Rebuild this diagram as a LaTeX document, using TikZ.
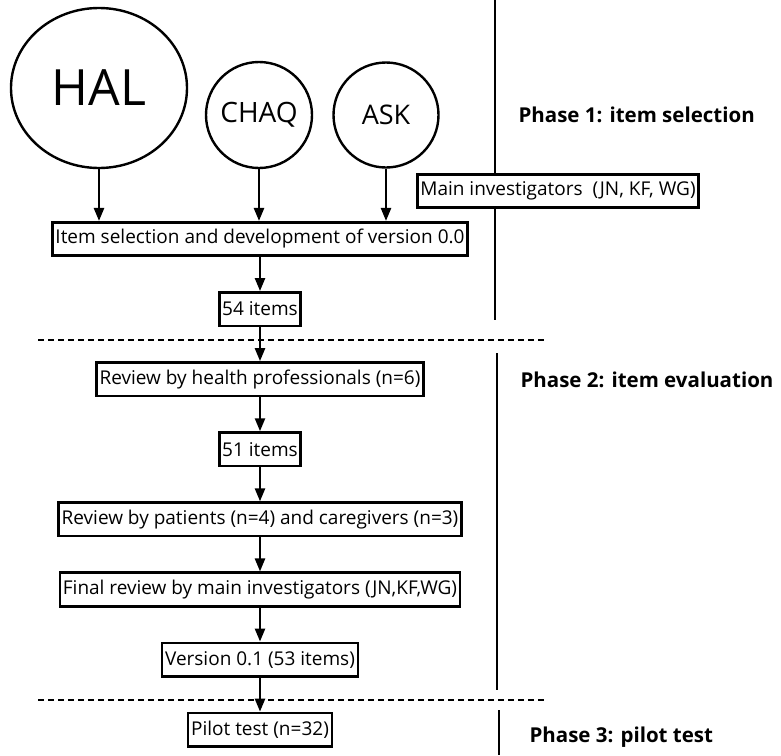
\documentclass[tikz,border=0pt]{standalone}
\usepackage{fontspec}
\setmainfont{Open Sans}
\usetikzlibrary{arrows.meta,positioning,shapes.geometric}
\tikzset{x=1pt,y=-1pt,node distance=34pt,
  box/.style={draw,fill=white,line width=2.6pt,minimum height=33.5pt,inner xsep=3pt,inner ysep=2pt,font=\fontsize{19}{21}\selectfont},
  src/.style={draw,line width=2.4pt,inner sep=0pt},
  arr/.style={-{Triangle[length=13pt,width=10pt]},line width=2.4pt},
  phase/.style={anchor=base west,font=\fontsize{20.5}{24}\selectfont\bfseries},
  divider/.style={line width=2.8pt},
  sep/.style={line width=2.4pt,dash pattern=on 6pt off 4pt}}
\begin{document}
\begin{tikzpicture}
    \useasboundingbox (0,0) rectangle (781,755);
    % phase borders
    \draw[divider] (495,0) -- (495,320);
    \draw[divider] (497,353) -- (497,690);
    \draw[divider] (499,710) -- (499,755);
    \draw[sep] (38,340) -- (545,340);
    \draw[sep] (38,700) -- (545,700);
    % instruments
    \node[src,ellipse,minimum width=176pt,minimum height=160pt,font=\fontsize{50}{54}\selectfont] (hal) at (99,88) {HAL};
    \node[src,circle,minimum size=106pt,font=\fontsize{28}{30}\selectfont] (chaq) at (259,115) {CHAQ};
    \node[src,circle,minimum size=105pt,font=\fontsize{27}{30}\selectfont] (ask) at (386,115) {ASK};
    % flow
    \node[box,minimum width=411pt] (item) at (260,239) {Item selection and development of version 0.0};
    \node[box] (n54) [below=of item] {54 items};
    \node[box] (health) [below=of n54] {Review by health professionals (n=6)};
    \node[box] (n51) [below=of health] {51 items};
    \node[box] (patients) [below=of n51] {Review by patients (n=4) and caregivers (n=3)};
    \node[box] (final) [below=of patients] {Final review by main investigators (JN,KF,WG)};
    \node[box] (v01) [below=of final] {Version 0.1 (53 items)};
    \node[box] (pilot) [below=of v01] {Pilot test (n=32)};
    \node[box] (main) at (558,191) {Main investigators\ \ (JN, KF, WG)};
    % phases
    \node[phase] (p1) at (515,122) {Phase 1: item selection};
    \node[phase] (p2) at (517,387) {Phase 2: item evaluation};
    \node[phase] (p3) at (526,742) {Phase 3: pilot test};
    % arrows
    \draw[arr] (hal) -- (hal |- item.north);
    \draw[arr] (chaq) -- (chaq |- item.north);
    \draw[arr] (ask) -- (ask |- item.north);
    \path[arr]
    (item) edge (n54)
    (n54) edge (health)
    (health) edge (n51)
    (n51) edge (patients)
    (patients) edge (final)
    (final) edge (v01)
    (v01) edge (pilot)
    ;
\end{tikzpicture}
\end{document}
